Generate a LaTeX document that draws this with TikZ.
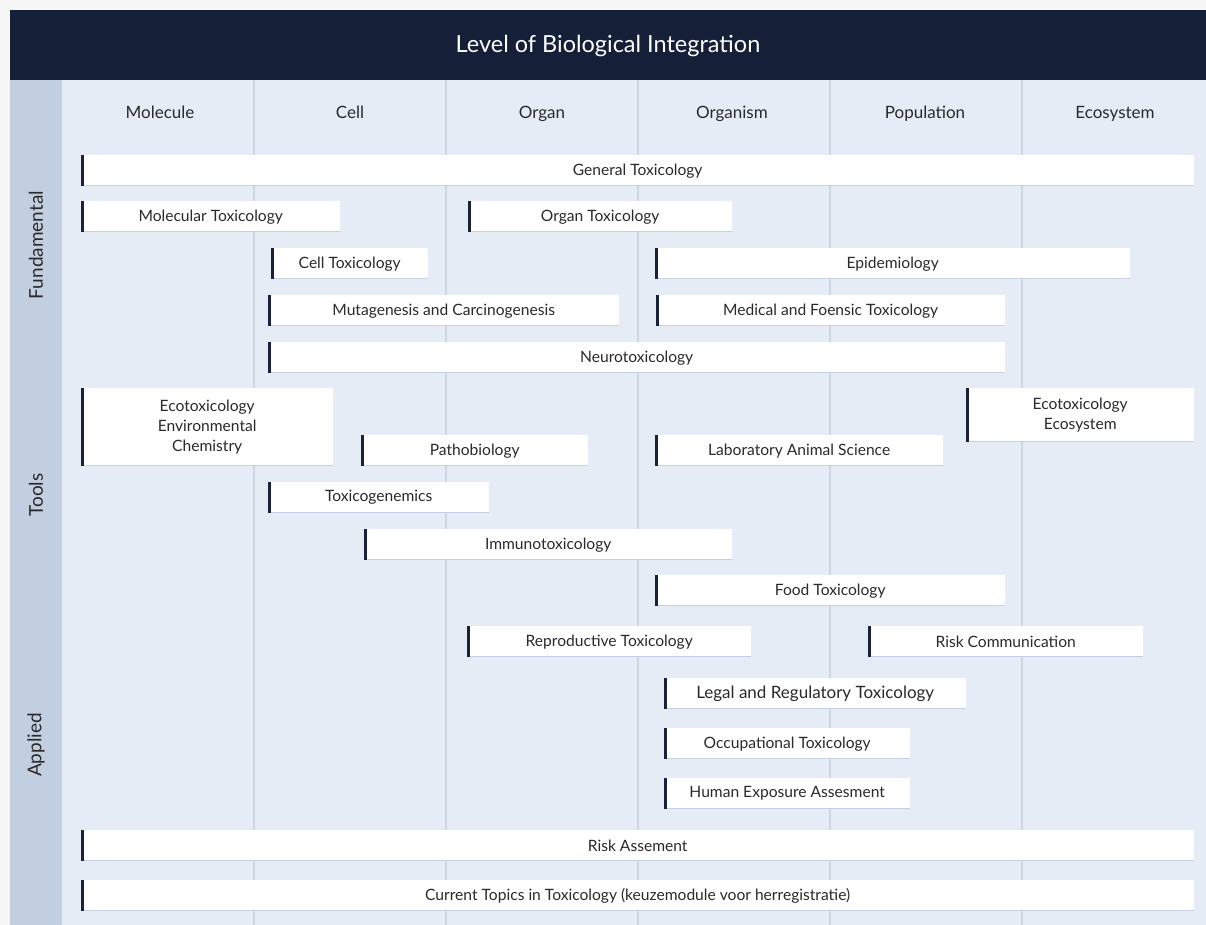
\documentclass[tikz,border=0pt]{standalone}
\usepackage{fontspec}
\setmainfont{Lato}
\definecolor{outerbg}{HTML}{F6F6F6}
\definecolor{headbg}{HTML}{151F38}
\definecolor{sideband}{HTML}{C2CFE0}
\definecolor{mainbg}{HTML}{E5ECF6}
\definecolor{colline}{HTML}{CCD6E4}
\definecolor{shadowc}{HTML}{C5D1E2}
\definecolor{accentc}{HTML}{1B2238}
\definecolor{txt}{HTML}{2A2A2A}
\tikzset{
  tbar/.style={fill=white, draw=none, anchor=north west, inner sep=0pt, text=txt,
    font=\fontsize{15.6}{20}\selectfont, align=center},
  accent/.style={draw=accentc, line width=2.6pt},
  shadowline/.style={draw=shadowc, line width=1.6pt},
  colhead/.style={text=txt, font=\fontsize{17}{20}\selectfont, anchor=base, inner sep=0pt},
  rowhead/.style={text=txt, font=\fontsize{19}{22}\selectfont, rotate=90},
  colsep/.style={draw=colline, line width=1.2pt}
}
% #1 name, #2 x1, #3 x2, #4 y1, #5 y2, #6 text
\newcommand\tbox[6]{%
  \node[tbar, minimum width={(#3-#2)*1pt}, minimum height={(#5-#4)*1pt}] (#1) at (#2,#4) {#6};
  \draw[shadowline] ([yshift=0.8pt]#1.south west) -- ([yshift=0.8pt]#1.south east);
  \draw[accent] ([xshift=1.3pt]#1.north west) -- ([xshift=1.3pt,yshift=0.8pt]#1.south west);
}
\begin{document}
\begin{tikzpicture}[x=1pt,y=-1pt]
\useasboundingbox (0,0) rectangle (1206,925);
\fill[outerbg] (0,0) rectangle (1206,925);
\fill[headbg] (10,10) rectangle (1206,80);
\fill[sideband] (10,80) rectangle (62,925);
\fill[mainbg] (62,80) rectangle (1206,925);
\node[text=white, font=\fontsize{23.5}{28}\selectfont] (title) at (608,46) {Level of Biological Integration};
% column separators
\foreach \cx in {254,446,638,830,1022} {\draw[colsep] (\cx,80) -- (\cx,925);}
% column headers
\node[colhead] (cmol) at (160,119) {Molecule};
\node[colhead] (ccell) at (350,119) {Cell};
\node[colhead] (corgan) at (542,119) {Organ};
\node[colhead] (corgm) at (732,119) {Organism};
\node[colhead] (cpop) at (925,119) {Population};
\node[colhead] (ceco) at (1115,119) {Ecosystem};
% row headers
\node[rowhead] (rfund) at (36,245) {Fundamental};
\node[rowhead] (rtools) at (36,495) {Tools};
\node[rowhead] (rapp) at (36,745) {Applied};
% bars
\tbox{gen}{81}{1194}{155}{186}{General Toxicology}
\tbox{mol}{81}{340}{201}{232}{Molecular Toxicology}
\tbox{org}{468}{732}{201}{232}{Organ Toxicology}
\tbox{cell}{271}{428}{248}{279}{Cell Toxicology}
\tbox{epi}{655}{1130}{248}{279}{Epidemiology}
\tbox{mut}{268}{619}{295}{326}{Mutagenesis and Carcinogenesis}
\tbox{med}{656}{1005}{295}{326}{Medical and Foensic Toxicology}
\tbox{neuro}{268}{1005}{342}{373}{Neurotoxicology}
\tbox{ecoenv}{81}{333}{388}{466}{Ecotoxicology\\Environmental\\Chemistry}
\tbox{ecosys}{966}{1194}{388}{442}{Ecotoxicology\\Ecosystem}
\tbox{patho}{361}{588}{435}{466}{Pathobiology}
\tbox{lab}{655}{943}{435}{466}{Laboratory Animal Science}
\tbox{toxg}{268}{489}{482}{513}{Toxicogenemics}
\tbox{immuno}{364}{732}{529}{560}{Immunotoxicology}
\tbox{food}{655}{1005}{575}{606}{Food Toxicology}
\tbox{repro}{467}{751}{626}{657}{Reproductive Toxicology}
\tbox{riskc}{868}{1143}{626}{657}{Risk Communication}
\tbox{legal}{664}{966}{678}{709}{\fontsize{17}{20}\selectfont Legal and Regulatory Toxicology}
\tbox{occ}{664}{910}{728}{759}{Occupational Toxicology}
\tbox{hum}{664}{910}{778}{809}{Human Exposure Assesment}
\tbox{riska}{81}{1194}{830}{861}{Risk Assement}
\tbox{curr}{81}{1194}{880}{911}{Current Topics in Toxicology (keuzemodule voor herregistratie)}
\end{tikzpicture}
\end{document}
